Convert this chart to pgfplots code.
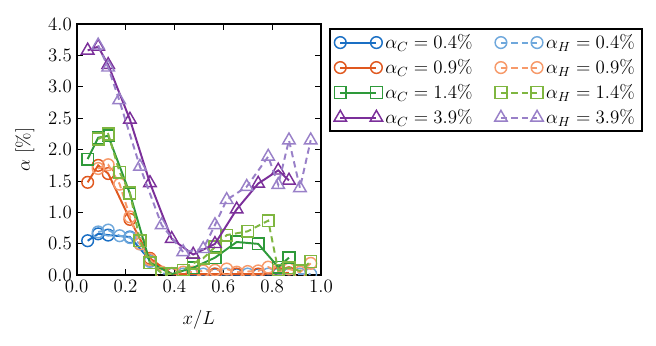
\RequirePackage{fix-cm}
\documentclass[border=0pt]{standalone}
\usepackage{pgfplots}
\pgfplotsset{compat=1.18}
\definecolor{cB}{HTML}{1A6FC4}
\definecolor{cO}{HTML}{E0581F}
\definecolor{cG}{HTML}{2E9A3A}
\definecolor{cP}{HTML}{7B2F9A}
\definecolor{hB}{HTML}{6FA8DC}
\definecolor{hO}{HTML}{F79A6A}
\definecolor{hG}{HTML}{7FB640}
\definecolor{hP}{HTML}{9980C8}
\newcommand{\fs}{\fontsize{13.6}{16}\selectfont}
\pgfplotsset{
  cS/.style={line width=1.4pt, mark options={solid, line width=1.05pt}},
  hS/.style={line width=1.4pt, dash pattern=on 4.5pt off 3pt, mark options={solid, line width=1.05pt}},
  mo/.style={mark=o, mark size=4.2pt},
  ms/.style={mark=square, mark size=4.2pt},
  mt/.style={mark=triangle, mark size=5.2pt},
}
\begin{document}
\begin{tikzpicture}
\useasboundingbox (-55.2pt,-50.2pt) rectangle (417.1pt,198.2pt);
\begin{axis}[
  at={(0,0)}, anchor=south west,
  scale only axis, width=175.9pt, height=180.9pt,
  xmin=0, xmax=1, ymin=0, ymax=4,
  xtick={0,0.2,...,1.0}, ytick={0,0.5,...,4.0},
  xticklabel style={/pgf/number format/.cd,fixed,fixed zerofill,precision=1},
  yticklabel style={/pgf/number format/.cd,fixed,fixed zerofill,precision=1},
  tick label style={font=\fs},
  label style={font=\fs},
  xlabel={$x/L$}, ylabel={$\alpha$ [\%]},
  xlabel style={yshift=-6pt},
  ylabel style={yshift=3pt},
  axis line style={line width=1.4pt},
  major tick length=4.3pt,
  every tick/.style={black, line width=0.8pt},
  tick align=inside,
  clip marker paths=true,
  legend columns=2,
  legend cell align=left,
  legend style={at={(1,1)}, anchor=north west, xshift=5.8pt, yshift=-2.9pt,
    draw=black, line width=1.2pt, font=\fs, row sep=2.3pt,
    /tikz/every even column/.append style={column sep=14pt}},
  legend image code/.code={\draw[#1] plot coordinates {(0pt,0pt) (26pt,0pt)};},
]
% 0.4%
\addplot[cB, cS, mo] coordinates {
(0.045,0.55) (0.088,0.66) (0.129,0.64) (0.218,0.61) (0.30,0.24) (0.389,0.02) (0.477,0.01) (0.566,0.01) (0.655,0.01) (0.743,0.01) (0.825,0.02) (0.869,0.02)};
\addlegendentry{$\alpha_C = 0.4\%$}
\addplot[hB, hS, mo] coordinates {
(0.088,0.69) (0.129,0.72) (0.176,0.63) (0.218,0.60) (0.259,0.50) (0.30,0.22) (0.348,0.03) (0.389,0.02) (0.436,0.02) (0.477,0.02) (0.518,0.02) (0.566,0.02) (0.614,0.02) (0.70,0.02) (0.784,0.02) (0.825,0.02) (0.869,0.02) (0.914,0.02) (0.958,0.02)};
\addlegendentry{$\alpha_H = 0.4\%$}
% 0.9%
\addplot[cO, cS, mo] coordinates {
(0.045,1.48) (0.088,1.75) (0.129,1.62) (0.218,0.89) (0.30,0.27) (0.389,0.02) (0.477,0.02) (0.566,0.02) (0.655,0.02) (0.743,0.02) (0.825,0.03) (0.869,0.04)};
\addlegendentry{$\alpha_C = 0.9\%$}
\addplot[hO, hS, mo] coordinates {
(0.088,1.70) (0.129,1.76) (0.176,1.45) (0.218,0.93) (0.259,0.50) (0.30,0.25) (0.348,0.05) (0.389,0.03) (0.436,0.05) (0.477,0.05) (0.518,0.07) (0.566,0.08) (0.614,0.10) (0.655,0.05) (0.70,0.06) (0.743,0.07) (0.784,0.13) (0.825,0.06) (0.869,0.10) (0.914,0.05) (0.958,0.19)};
\addlegendentry{$\alpha_H = 0.9\%$}
% 1.4%
\addplot[cG, cS, ms] coordinates {
(0.045,1.85) (0.088,2.19) (0.129,2.22) (0.218,1.30) (0.30,0.20) (0.389,0.02) (0.477,0.12) (0.566,0.28) (0.655,0.53) (0.743,0.50) (0.825,0.13) (0.869,0.28)};
\addlegendentry{$\alpha_C = 1.4\%$}
\addplot[hG, hS, ms] coordinates {
(0.088,2.17) (0.129,2.25) (0.176,1.64) (0.218,1.31) (0.259,0.55) (0.30,0.20) (0.348,0.03) (0.389,0.02) (0.436,0.08) (0.477,0.19) (0.518,0.27) (0.566,0.45) (0.614,0.64) (0.70,0.70) (0.784,0.87) (0.825,0.08) (0.869,0.12) (0.914,0.07) (0.958,0.22)};
\addlegendentry{$\alpha_H = 1.4\%$}
% 3.9%
\addplot[cP, cS, mt] coordinates {
(0.045,3.58) (0.088,3.64) (0.129,3.35) (0.218,2.48) (0.30,1.47) (0.389,0.58) (0.477,0.33) (0.566,0.50) (0.655,1.05) (0.743,1.46) (0.825,1.67) (0.869,1.51)};
\addlegendentry{$\alpha_C = 3.9\%$}
\addplot[hP, hS, mt] coordinates {
(0.088,3.66) (0.129,3.31) (0.174,2.79) (0.259,1.73) (0.348,0.80) (0.436,0.37) (0.518,0.42) (0.566,0.80) (0.614,1.20) (0.696,1.41) (0.784,1.89) (0.825,1.44) (0.869,2.15) (0.914,1.39) (0.958,2.15)};
\addlegendentry{$\alpha_H = 3.9\%$}
\end{axis}
\end{tikzpicture}
\end{document}
